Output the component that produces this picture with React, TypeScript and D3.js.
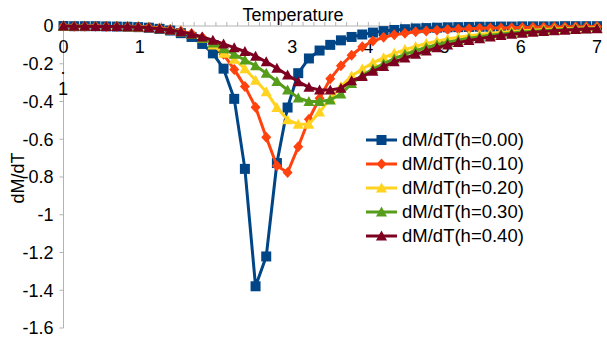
import React from 'react';
import * as d3 from 'd3';

// temperature grid (x)
const temps = [0, 0.14, 0.28, 0.42, 0.56, 0.7, 0.84, 0.98, 1.12, 1.26, 1.4, 1.54, 1.68, 1.82, 1.96, 2.1, 2.24, 2.38, 2.52, 2.66, 2.8, 2.94, 3.08, 3.22, 3.36, 3.5, 3.64, 3.78, 3.92, 4.06, 4.2, 4.34, 4.48, 4.62, 4.76, 4.9, 5.04, 5.18, 5.32, 5.46, 5.6, 5.74, 5.88, 6.02, 6.16, 6.3, 6.44, 6.58, 6.72, 6.86, 7.0];

const h000 = [0, -0.001, -0.001, -0.001, -0.002, -0.003, -0.004, -0.006, -0.009, -0.015, -0.024, -0.038, -0.058, -0.095, -0.145, -0.226, -0.386, -0.757, -1.379, -1.221, -0.726, -0.432, -0.25, -0.172, -0.13, -0.1, -0.076, -0.058, -0.045, -0.035, -0.027, -0.021, -0.017, -0.013, -0.011, -0.009, -0.007, -0.006, -0.005, -0.004, -0.004, -0.003, -0.003, -0.002, -0.002, -0.002, -0.002, -0.001, -0.001, -0.001, -0.001];
const h010 = [0, -0.001, -0.001, -0.001, -0.002, -0.003, -0.004, -0.004, -0.007, -0.012, -0.018, -0.027, -0.04, -0.06, -0.095, -0.15, -0.23, -0.32, -0.43, -0.59, -0.74, -0.776, -0.64, -0.494, -0.383, -0.28, -0.21, -0.155, -0.11, -0.08, -0.06, -0.047, -0.038, -0.031, -0.026, -0.022, -0.019, -0.016, -0.014, -0.012, -0.011, -0.01, -0.009, -0.008, -0.007, -0.006, -0.005, -0.005, -0.004, -0.004, -0.003];
const h020 = [0, -0.001, -0.001, -0.001, -0.002, -0.003, -0.004, -0.005, -0.008, -0.013, -0.02, -0.03, -0.045, -0.065, -0.1, -0.145, -0.176, -0.226, -0.288, -0.348, -0.432, -0.497, -0.52, -0.52, -0.456, -0.385, -0.32, -0.265, -0.228, -0.195, -0.168, -0.145, -0.125, -0.108, -0.093, -0.08, -0.069, -0.06, -0.052, -0.045, -0.039, -0.034, -0.029, -0.025, -0.022, -0.019, -0.016, -0.014, -0.012, -0.011, -0.009];
const h030 = [0, -0.001, -0.001, -0.002, -0.002, -0.003, -0.004, -0.005, -0.009, -0.014, -0.021, -0.031, -0.045, -0.065, -0.09, -0.12, -0.15, -0.18, -0.21, -0.25, -0.294, -0.339, -0.381, -0.4, -0.4, -0.392, -0.36, -0.305, -0.262, -0.228, -0.2, -0.173, -0.15, -0.131, -0.114, -0.099, -0.086, -0.075, -0.065, -0.057, -0.049, -0.043, -0.037, -0.032, -0.028, -0.024, -0.021, -0.018, -0.016, -0.014, -0.012];
const h040 = [0, -0.001, -0.001, -0.002, -0.002, -0.003, -0.004, -0.005, -0.009, -0.014, -0.021, -0.03, -0.042, -0.058, -0.075, -0.095, -0.115, -0.135, -0.16, -0.19, -0.224, -0.26, -0.295, -0.325, -0.339, -0.339, -0.33, -0.29, -0.268, -0.24, -0.215, -0.19, -0.17, -0.15, -0.132, -0.115, -0.1, -0.088, -0.077, -0.067, -0.058, -0.05, -0.044, -0.038, -0.033, -0.029, -0.025, -0.022, -0.019, -0.016, -0.014];

const seriesNames = ['dM/dT(h=0.00)', 'dM/dT(h=0.10)', 'dM/dT(h=0.20)', 'dM/dT(h=0.30)', 'dM/dT(h=0.40)'];
const seriesValues = [h000, h010, h020, h030, h040];
const seriesColors = ['#004586', '#ff420e', '#ffd320', '#579d1c', '#7e0021'];
const seriesMarkers = ['square', 'diamond', 'triangle', 'triangle', 'triangle'];

const xTicks = [0, 1, 2, 3, 4, 5, 6, 7];
const yTicks = [0, -0.2, -0.4, -0.6, -0.8, -1, -1.2, -1.4, -1.6];

const W = 607, H = 340;
const font = "'Liberation Sans', Arial, sans-serif";
const axisColor = '#b3b3b3';

function Marker({ kind, x, y, color }: { kind: string; x: number; y: number; color: string }) {
  if (kind === 'square') {
    return <rect x={x - 5} y={y - 5} width={10} height={10} fill={color} />;
  }
  if (kind === 'diamond') {
    return <path d={`M${x},${y - 5.5}L${x + 5},${y}L${x},${y + 5.5}L${x - 5},${y}Z`} fill={color} />;
  }
  return <path d={`M${x},${y - 5.5}L${x + 5.5},${y + 4.5}L${x - 5.5},${y + 4.5}Z`} fill={color} />;
}

export default function App() {
  const x = d3.scaleLinear().domain([0, 7]).range([63.5, 597]);
  const y = d3.scaleLinear().domain([-1.6, 0]).range([328, 26]);

  const line = d3.line<number>()
    .x((_, i) => x(temps[i]))
    .y(d => y(d));

  // minor ticks along the top axis
  const minor: number[] = [];
  for (let i = 0; i <= 7 * 7 + 1; i++) minor.push(i / 7);

  return (
    <svg width={W} height={H} style={{ position: 'absolute', left: 0, top: 0, background: '#fff' }} fontFamily={font}>
      {/* axes */}
      <line x1={x(0)} x2={600} y1={y(0)} y2={y(0)} stroke={axisColor} strokeWidth={1} />
      {minor.map((t, i) => (
        <line key={'m' + i} x1={x(t)} x2={x(t)} y1={y(0) - 4} y2={y(0)} stroke={axisColor} />
      ))}
      <line x1={x(0)} x2={x(0)} y1={y(0)} y2={y(-1.6)} stroke={axisColor} />
      {yTicks.map(t => (
        <g key={'y' + t}>
          <line x1={x(0) - 4} x2={x(0)} y1={y(t)} y2={y(t)} stroke={axisColor} />
          <text x={53.5} y={y(t)} dy="0.35em" textAnchor="end" fontSize={18}>{String(t)}</text>
        </g>
      ))}
      {xTicks.map(t => (
        <text key={'x' + t} x={x(t)} y={47} dy="0.35em" textAnchor="middle" fontSize={18}>{t}</text>
      ))}
      <text x={63} y={67.5} dy="0.35em" textAnchor="middle" fontSize={18}>.</text>
      <text x={63} y={88.5} dy="0.35em" textAnchor="middle" fontSize={18}>1</text>

      <text x={293} y={15} dy="0.35em" textAnchor="middle" fontSize={18}>Temperature</text>
      <text transform={`translate(18,178) rotate(-90)`} dy="0.35em" textAnchor="middle" fontSize={18}>dM/dT</text>

      {/* series */}
      {seriesValues.map((vals, s) => (
        <g key={'s' + s}>
          <path d={line(vals) || ''} fill="none" stroke={seriesColors[s]} strokeWidth={3} strokeLinejoin="round" />
          {vals.map((v, i) => (
            <Marker key={i} kind={seriesMarkers[s]} x={x(temps[i])} y={y(v)} color={seriesColors[s]} />
          ))}
        </g>
      ))}

      {/* legend */}
      {seriesNames.map((name, s) => {
        const ly = 140 + s * 24;
        return (
          <g key={'l' + s}>
            <line x1={366} x2={397} y1={ly} y2={ly} stroke={seriesColors[s]} strokeWidth={3} />
            <Marker kind={seriesMarkers[s]} x={381.5} y={ly} color={seriesColors[s]} />
            <text x={402} y={ly} dy="0.35em" fontSize={18.5}>{name}</text>
          </g>
        );
      })}
    </svg>
  );
}
